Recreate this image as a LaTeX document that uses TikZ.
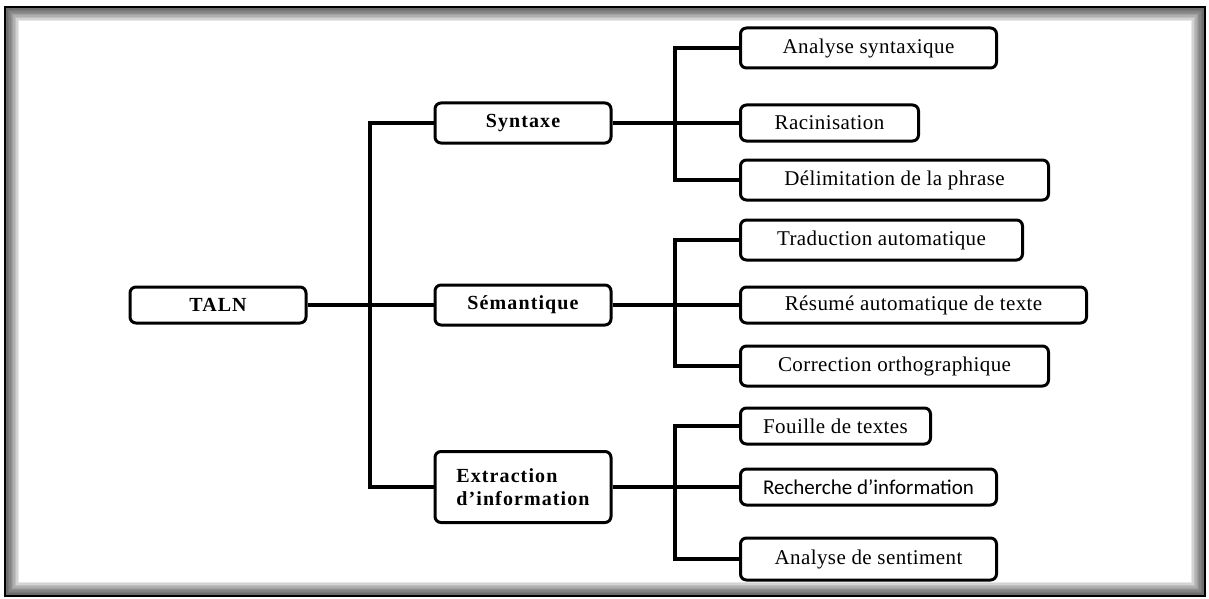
\documentclass[tikz,border=0pt]{standalone}
\usepackage{fontspec}
\setmainfont{Liberation Serif}
\newfontfamily\calfont{Carlito}
\usetikzlibrary{shapes,arrows,positioning,calc}

\tikzset{
	box/.style={rectangle, draw=black, line width=3pt, rounded corners=6pt, fill=white, inner sep=0pt},
	hub/.style={box, minimum width=176pt, minimum height=40pt, font=\fontsize{20}{23}\selectfont\bfseries\addfontfeatures{LetterSpace=5.5}},
	leaf/.style={box, anchor=west, minimum height=40pt, font=\fontsize{21}{24}\selectfont\addfontfeatures{LetterSpace=2}},
	wire/.style={line width=3.2pt}
}

\begin{document}
\begin{tikzpicture}[x=1pt,y=-1pt]
	\useasboundingbox (0,0) rectangle (1209,599);
	% cadre avec ombre interieure
	\begin{scope}
		\clip (5,7) rectangle (1205,596);
		\foreach \i in {1,...,10}
			\draw[black, opacity=0.09, line width={2.8*\i}] (5,7) rectangle (1205,596);
	\end{scope}
	\draw[line width=2.8pt] (5,7) rectangle (1205,596);

	\node (TALN) [hub, minimum height=36pt] at (218,305) {TALN};
	\node (Sem) [hub, node distance=305pt, right of=TALN] {Sémantique};
	\node (Syn) [hub, node distance=182pt, above of=Sem] {Syntaxe};
	\node (Ext) [hub, node distance=182pt, below of=Sem, minimum height=71pt, align=left] {Extraction\\d’information};

	\node (AnaSyn) [leaf, minimum width=256pt] at (739,48) {Analyse syntaxique};
	\node (Rac) [leaf, minimum width=178pt, minimum height=36pt] at (739,123) {Racinisation};
	\node (Del) [leaf, minimum width=308pt] at (739,180) {Délimitation de la phrase};
	\node (Trad) [leaf, minimum width=282pt] at (739,240) {Traduction automatique};
	\node (Res) [leaf, minimum width=346pt, minimum height=36pt] at (739,305) {Résumé automatique de texte};
	\node (Cor) [leaf, minimum width=308pt] at (739,366) {Correction orthographique};
	\node (Fou) [leaf, minimum width=190pt, minimum height=36pt] at (739,426) {Fouille de textes};
	\node (Rech) [leaf, minimum width=256pt, minimum height=36pt, font=\fontsize{21}{24}\calfont] at (739,487) {Recherche d’information};
	\node (Sent) [leaf, minimum width=256pt, minimum height=42pt] at (739,559) {Analyse de sentiment};

	\coordinate (trunk) at (370,0);
	\coordinate (bus) at (675,0);

	\draw[wire] (TALN) -- (Sem);
	\draw[wire] (Syn.west) -| (trunk |- Ext.west) -- (Ext.west);

	\draw[wire] (Syn) -- (Rac);
	\draw[wire] (AnaSyn.west) -| (bus |- Del.west) -- (Del.west);
	\draw[wire] (Sem) -- (Res);
	\draw[wire] (Trad.west) -| (bus |- Cor.west) -- (Cor.west);
	\draw[wire] (Ext) -- (Rech);
	\draw[wire] (Fou.west) -| (bus |- Sent.west) -- (Sent.west);
\end{tikzpicture}
\end{document}
